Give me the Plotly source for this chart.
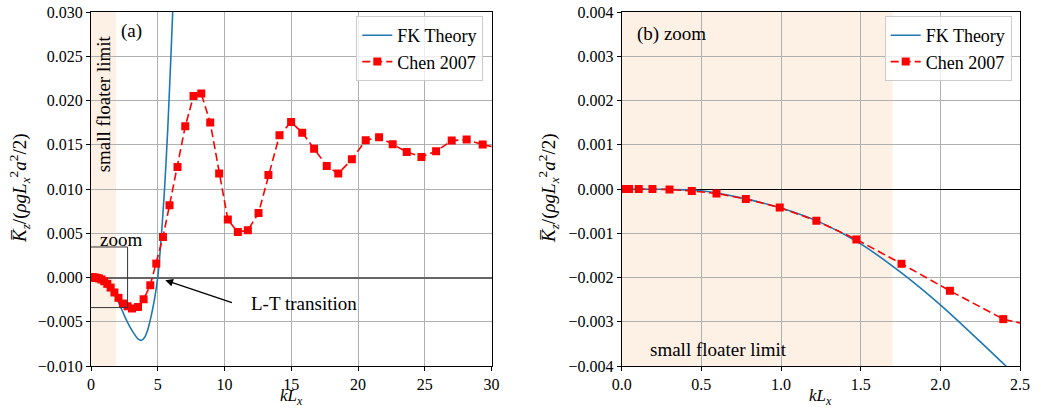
import plotly.graph_objects as go

# ---------------- data ----------------
fk_x = [0.0, 0.25, 0.5, 0.75, 1.0, 1.25, 1.5, 1.75, 2.0, 2.25, 2.5, 2.75, 3.0, 3.25,
        3.5, 3.75, 4.0, 4.25, 4.5, 4.75, 5.0, 5.25, 5.5, 5.75, 6.0, 6.2]
fk_y = [0.0, -0.000005, -0.00004, -0.0002, -0.00043, -0.00076, -0.00124, -0.00188,
        -0.00262, -0.00345, -0.0043, -0.0051, -0.0058, -0.0064, -0.0069, -0.0071,
        -0.0068, -0.0059, -0.0044, -0.0025, 0.0, 0.0043, 0.0098, 0.0168, 0.0255, 0.033]

chen_x = [0.021, 0.046, 0.107, 0.193, 0.30, 0.44, 0.595, 0.779, 0.992, 1.222, 1.473,
          1.756, 2.06, 2.395, 2.74, 3.07, 3.52, 3.94, 4.44, 4.89, 5.39, 5.88, 6.48,
          7.06, 7.68, 8.26, 8.93, 9.6, 10.25, 11.0, 11.75, 12.55, 13.29, 14.12, 14.99,
          15.82, 16.71, 17.66, 18.52, 19.54, 20.58, 21.58, 22.6, 23.65, 24.75, 25.85,
          27.02, 28.14, 29.34, 30.6]
chen_y = [0.0, 0.0, 0.0, 0.0, -0.00001, -0.000045, -0.0001, -0.000226, -0.00042,
          -0.00072, -0.00114, -0.00169, -0.0023, -0.00294, -0.00325, -0.0035, -0.00333,
          -0.00246, -0.00088, 0.00157, 0.00458, 0.00816, 0.01249, 0.01708, 0.02051,
          0.02078, 0.0175, 0.01174, 0.00654, 0.00514, 0.00533, 0.00729, 0.01158,
          0.01607, 0.01757, 0.01637, 0.01456, 0.0126, 0.01174, 0.01336, 0.0155,
          0.01584, 0.01505, 0.01418, 0.01362, 0.01426, 0.01547, 0.01558, 0.01502, 0.0146]

small_limit_a = 1.87
small_limit_b = 1.70
zoom_box_x = 2.74
zoom_box_y = [0.00345, -0.0034]

left_xticks = [0, 5, 10, 15, 20, 25, 30]
left_yticks = [-0.010, -0.005, 0.0, 0.005, 0.010, 0.015, 0.020, 0.025, 0.030]
right_xticks = [0.0, 0.5, 1.0, 1.5, 2.0, 2.5]
right_yticks = [-0.004, -0.003, -0.002, -0.001, 0.0, 0.001, 0.002, 0.003, 0.004]

# ---------------- figure ----------------
FONT = "'Liberation Serif', 'DejaVu Serif', serif"
BLUE = "#1f77b4"
RED = "red"
SHADE = "#fdf0e4"
W, H = 1041, 409
ML, MR, MT, MB = 91, 21, 12, 43
PW = W - ML - MR
PH = H - MT - MB
xa_dom = [0, 400.5 / PW]
xb_dom = [(621.7 - ML) / PW, 1]

fig = go.Figure()
for ax_suffix, leg in (("", "legend"), ("2", "legend2")):
    fig.add_trace(go.Scatter(x=fk_x, y=fk_y, mode="lines", name="FK Theory",
                             line=dict(color=BLUE, width=1.6, shape="spline", smoothing=0.8),
                             xaxis="x" + ax_suffix, yaxis="y" + ax_suffix, legend=leg))
    fig.add_trace(go.Scatter(x=chen_x, y=chen_y, mode="lines+markers", name="Chen 2007",
                             line=dict(color=RED, width=1.6, dash="8px,4px"),
                             marker=dict(color=RED, symbol="square", size=8),
                             xaxis="x" + ax_suffix, yaxis="y" + ax_suffix, legend=leg))

axis_common = dict(showline=True, linecolor="black", linewidth=1, mirror=True,
                   ticks="outside", ticklen=4, tickwidth=1, tickcolor="black",
                   showgrid=True, gridcolor="#b0b0b0", gridwidth=0.8,
                   tickfont=dict(family=FONT, size=16, color="black"))
title_font = dict(family=FONT, size=17, color="black")

legend_common = dict(xanchor="right", yanchor="top", bgcolor="rgba(255,255,255,0.8)",
                     bordercolor="#cccccc", borderwidth=1, itemwidth=30,
                     font=dict(family=FONT, size=18, color="black"), tracegroupgap=0)

fig.update_layout(
    width=W, height=H, margin=dict(l=ML, r=MR, t=MT, b=MB, autoexpand=False),
    paper_bgcolor="white", plot_bgcolor="white",
    xaxis=dict(domain=xa_dom, range=[0, 30], tickvals=left_xticks, anchor="y",
               zeroline=False, **axis_common),
    yaxis=dict(domain=[0, 1], range=[-0.010, 0.030], tickvals=left_yticks, tickformat=".3f",
               anchor="x", zeroline=True, zerolinecolor="#666666", zerolinewidth=1.5,
               **axis_common),
    xaxis2=dict(domain=xb_dom, range=[0, 2.5], tickvals=right_xticks, tickformat=".1f",
                anchor="y2", zeroline=False, **axis_common),
    yaxis2=dict(domain=[0, 1], range=[-0.004, 0.004], tickvals=right_yticks, tickformat=".3f",
                anchor="x2", zeroline=True, zerolinecolor="black", zerolinewidth=1,
                **axis_common),
    legend=dict(x=(483.3 - ML) / PW, y=1 - (16 - MT) / PH, **legend_common),
    legend2=dict(x=(1011.7 - ML) / PW, y=1 - (16 - MT) / PH, **legend_common),
    showlegend=True,
)

shapes = [
    dict(type="rect", xref="x", yref="y domain", x0=0, x1=small_limit_a, y0=0, y1=1,
         fillcolor=SHADE, line=dict(width=0), layer="below"),
    dict(type="rect", xref="x2", yref="y2 domain", x0=0, x1=small_limit_b, y0=0, y1=1,
         fillcolor=SHADE, line=dict(width=0), layer="below"),
    dict(type="path", xref="x", yref="y",
         path=f"M 0 {zoom_box_y[0]} L {zoom_box_x} {zoom_box_y[0]} L {zoom_box_x} {zoom_box_y[1]} L 0 {zoom_box_y[1]}",
         line=dict(color="#333333", width=1), layer="above"),
]
fig.update_layout(shapes=shapes)

ytitle = "<i>K̅</i><sub><i>z</i></sub>/(<i>ρgL</i><sub><i>x</i></sub><sup>2</sup><i>a</i><sup>2</sup>/2)"
xtitle = "<i>kL</i><sub><i>x</i></sub>"

txt_font = dict(family=FONT, size=19, color="black")
annotations = [
    # axis titles
    dict(xref="x domain", yref="paper", x=0.5, y=-(396.5 - MT - PH) / PH, yanchor="middle",
         text=xtitle, showarrow=False, font=title_font),
    dict(xref="x2 domain", yref="paper", x=0.5, y=-(396.5 - MT - PH) / PH, yanchor="middle",
         text=xtitle, showarrow=False, font=title_font),
    dict(xref="paper", yref="paper", x=(19 - ML) / PW, y=1 - (188 - MT) / PH, xanchor="center",
         yanchor="middle", text=ytitle, textangle=-90, showarrow=False,
         font=dict(family=FONT, size=19, color="black")),
    dict(xref="paper", yref="paper", x=(548 - ML) / PW, y=1 - (188 - MT) / PH, xanchor="center",
         yanchor="middle", text=ytitle, textangle=-90, showarrow=False,
         font=dict(family=FONT, size=19, color="black")),
    # texts
    dict(xref="x", yref="y", x=3.0, y=0.0279, text="(a)", showarrow=False, font=txt_font),
    dict(xref="x", yref="y", x=0.92, y=0.0196, text="small floater limit", textangle=-90,
         showarrow=False, font=txt_font),
    dict(xref="x", yref="y", x=0.55, y=0.0043, text="zoom", xanchor="left", showarrow=False,
         font=txt_font),
    dict(xref="x", yref="y", x=11.8, y=-0.0029, text="L-T transition", xanchor="left",
         showarrow=False, font=txt_font),
    dict(xref="x", yref="y", x=5.56, y=-0.0003, axref="x", ayref="y", ax=10.67, ay=-0.0029,
         text="", showarrow=True, arrowhead=2, arrowsize=1.2, arrowwidth=1.3, arrowcolor="black"),
    dict(xref="x2", yref="y2", x=0.083, y=0.0035, text="(b) zoom", xanchor="left",
         showarrow=False, font=txt_font),
    dict(xref="x2", yref="y2", x=0.163, y=-0.00362, text="small floater limit", xanchor="left",
         showarrow=False, font=txt_font),
]
fig.update_layout(annotations=annotations)

fig.write_html("out.html", config={"displayModeBar": False},
               post_script="document.body.style.margin='0';document.body.style.overflow='hidden';")
